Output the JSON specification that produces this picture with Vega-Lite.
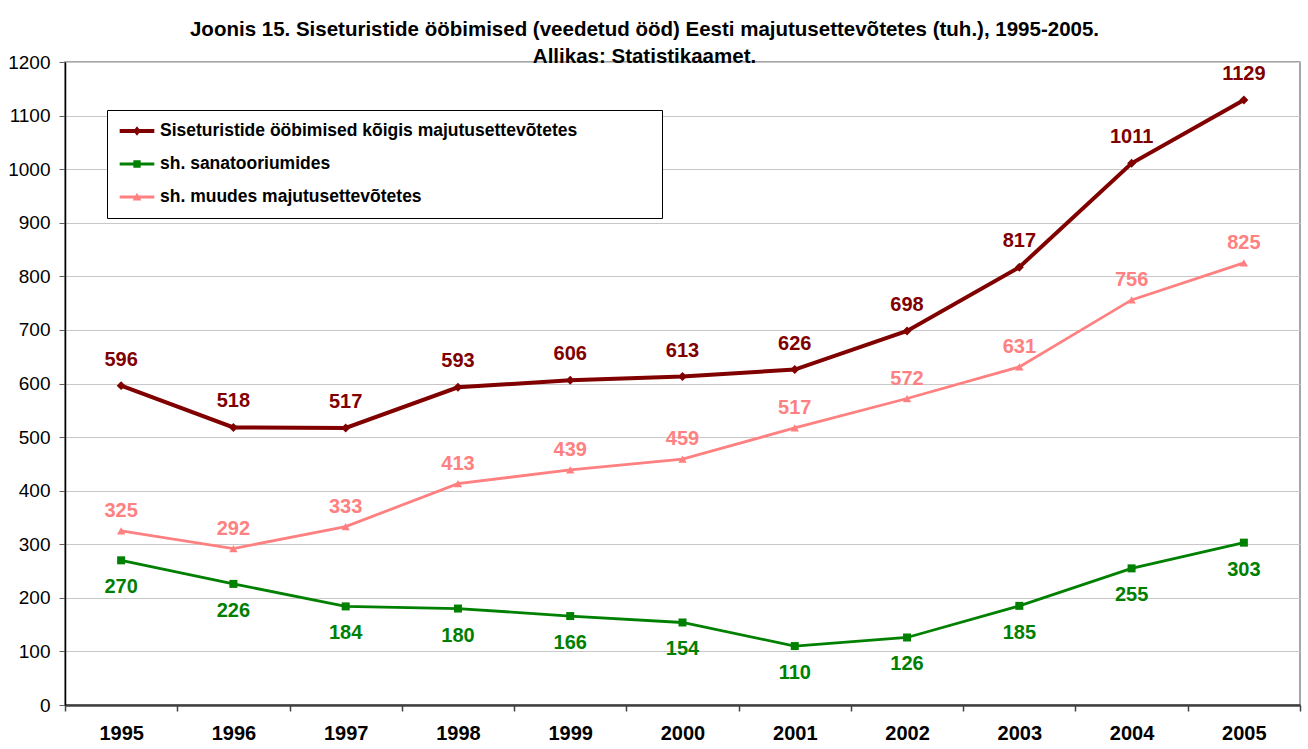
{
  "$schema": "https://vega.github.io/schema/vega-lite/v6.json",
  "width": 1235,
  "height": 643,
  "autosize": "none",
  "padding": {"left": 65, "top": 62, "right": 8, "bottom": 44},
  "background": "white",
  "config": {
    "font": "Liberation Sans",
    "view": {"stroke": "#888888", "strokeWidth": 1.5},
    "legend": {
      "orient": "none",
      "legendX": 42,
      "legendY": 48,
      "fillColor": "white",
      "strokeColor": "black",
      "padding": 12,
      "labelFontSize": 17.5,
      "labelFontWeight": "bold",
      "labelColor": "black",
      "labelLimit": 900,
      "symbolSize": 300,
      "symbolOpacity": 1,
      "symbolStrokeWidth": 0,
      "symbolOffset": 9,
      "labelOffset": 14,
      "rowPadding": 15,
      "titleOrient": "right",
      "titleFontSize": 17.5,
      "titleFontWeight": "bold",
      "titleOpacity": 0,
      "titlePadding": 0
    }
  },
  "title": {
    "text": ["Joonis 15. Siseturistide ööbimised (veedetud ööd) Eesti majutusettevõtetes (tuh.), 1995-2005.", "Allikas: Statistikaamet."],
    "fontSize": 20.5,
    "fontWeight": "bold",
    "color": "black",
    "anchor": "middle",
    "lineHeight": 27,
    "offset": -14,
    "dx": -38
  },
  "data": {
    "values": [
      {"year": "1995", "series": "Siseturistide ööbimised kõigis majutusettevõtetes", "value": 596},
      {"year": "1996", "series": "Siseturistide ööbimised kõigis majutusettevõtetes", "value": 518},
      {"year": "1997", "series": "Siseturistide ööbimised kõigis majutusettevõtetes", "value": 517},
      {"year": "1998", "series": "Siseturistide ööbimised kõigis majutusettevõtetes", "value": 593},
      {"year": "1999", "series": "Siseturistide ööbimised kõigis majutusettevõtetes", "value": 606},
      {"year": "2000", "series": "Siseturistide ööbimised kõigis majutusettevõtetes", "value": 613},
      {"year": "2001", "series": "Siseturistide ööbimised kõigis majutusettevõtetes", "value": 626},
      {"year": "2002", "series": "Siseturistide ööbimised kõigis majutusettevõtetes", "value": 698},
      {"year": "2003", "series": "Siseturistide ööbimised kõigis majutusettevõtetes", "value": 817},
      {"year": "2004", "series": "Siseturistide ööbimised kõigis majutusettevõtetes", "value": 1011},
      {"year": "2005", "series": "Siseturistide ööbimised kõigis majutusettevõtetes", "value": 1129},
      {"year": "1995", "series": "sh. sanatooriumides", "value": 270},
      {"year": "1996", "series": "sh. sanatooriumides", "value": 226},
      {"year": "1997", "series": "sh. sanatooriumides", "value": 184},
      {"year": "1998", "series": "sh. sanatooriumides", "value": 180},
      {"year": "1999", "series": "sh. sanatooriumides", "value": 166},
      {"year": "2000", "series": "sh. sanatooriumides", "value": 154},
      {"year": "2001", "series": "sh. sanatooriumides", "value": 110},
      {"year": "2002", "series": "sh. sanatooriumides", "value": 126},
      {"year": "2003", "series": "sh. sanatooriumides", "value": 185},
      {"year": "2004", "series": "sh. sanatooriumides", "value": 255},
      {"year": "2005", "series": "sh. sanatooriumides", "value": 303},
      {"year": "1995", "series": "sh. muudes majutusettevõtetes", "value": 325},
      {"year": "1996", "series": "sh. muudes majutusettevõtetes", "value": 292},
      {"year": "1997", "series": "sh. muudes majutusettevõtetes", "value": 333},
      {"year": "1998", "series": "sh. muudes majutusettevõtetes", "value": 413},
      {"year": "1999", "series": "sh. muudes majutusettevõtetes", "value": 439},
      {"year": "2000", "series": "sh. muudes majutusettevõtetes", "value": 459},
      {"year": "2001", "series": "sh. muudes majutusettevõtetes", "value": 517},
      {"year": "2002", "series": "sh. muudes majutusettevõtetes", "value": 572},
      {"year": "2003", "series": "sh. muudes majutusettevõtetes", "value": 631},
      {"year": "2004", "series": "sh. muudes majutusettevõtetes", "value": 756},
      {"year": "2005", "series": "sh. muudes majutusettevõtetes", "value": 825}
    ]
  },
  "encoding": {
    "x": {
      "field": "year",
      "type": "ordinal",
      "bandPosition": 0.5,
      "scale": {"type": "band", "paddingInner": 0, "paddingOuter": 0},
      "axis": {
        "title": null,
        "labelAngle": 0,
        "labelFontSize": 20,
        "labelFontWeight": "bold",
        "labelColor": "black",
        "labelPadding": 12,
        "tickBand": "extent",
        "tickSize": 6,
        "tickColor": "#404040",
        "tickWidth": 1.5,
        "domainColor": "#404040",
        "domainWidth": 2.5,
        "grid": false
      }
    },
    "y": {
      "field": "value",
      "type": "quantitative",
      "scale": {"domain": [0, 1200], "nice": false},
      "axis": {
        "title": null,
        "format": "d",
        "values": [0, 100, 200, 300, 400, 500, 600, 700, 800, 900, 1000, 1100, 1200],
        "labelFontSize": 19,
        "labelColor": "black",
        "labelPadding": 9,
        "tickSize": 6,
        "tickColor": "#606060",
        "domainColor": "black",
        "domainWidth": 1.5,
        "grid": true,
        "gridColor": "#c8c8c8",
        "gridWidth": 1
      }
    },
    "color": {
      "field": "series",
      "type": "nominal",
      "sort": null,
      "title": "MMMMM",
      "scale": {
        "domain": ["Siseturistide ööbimised kõigis majutusettevõtetes", "sh. sanatooriumides", "sh. muudes majutusettevõtetes"],
        "range": ["#800000", "#008000", "#FF8080"]
      }
    }
  },
  "layer": [
    {
      "mark": {"type": "point", "filled": true, "opacity": 0},
      "encoding": {
        "shape": {
          "field": "series",
          "type": "nominal",
          "sort": null,
          "title": "MMMMM",
          "scale": {
            "domain": ["Siseturistide ööbimised kõigis majutusettevõtetes", "sh. sanatooriumides", "sh. muudes majutusettevõtetes"],
            "range": [
              "M-2,-0.22H2V0.22H-2Z M0,-0.55L0.42,0L0,0.55L-0.42,0Z",
              "M-2,-0.16H2V0.16H-2Z M-0.42,-0.42H0.42V0.42H-0.42Z",
              "M-2,-0.16H2V0.16H-2Z M0,-0.5L0.5,0.4H-0.5Z"
            ]
          }
        }
      }
    },
    {
      "transform": [{"filter": "datum.series === 'Siseturistide ööbimised kõigis majutusettevõtetes'"}],
      "mark": {"type": "line", "strokeWidth": 4}
    },
    {
      "transform": [{"filter": "datum.series !== 'Siseturistide ööbimised kõigis majutusettevõtetes'"}],
      "mark": {"type": "line", "strokeWidth": 2.8}
    },
    {
      "transform": [{"filter": "datum.series === 'Siseturistide ööbimised kõigis majutusettevõtetes'"}],
      "mark": {"type": "point", "filled": true, "opacity": 1, "shape": "diamond", "size": 80}
    },
    {
      "transform": [{"filter": "datum.series === 'sh. sanatooriumides'"}],
      "mark": {"type": "point", "filled": true, "opacity": 1, "shape": "square", "size": 64}
    },
    {
      "transform": [{"filter": "datum.series === 'sh. muudes majutusettevõtetes'"}],
      "mark": {"type": "point", "filled": true, "opacity": 1, "shape": "triangle-up", "size": 70}
    },
    {
      "transform": [{"filter": "datum.series === 'Siseturistide ööbimised kõigis majutusettevõtetes'"}],
      "mark": {"type": "text", "dy": -26, "fontSize": 20, "fontWeight": "bold"},
      "encoding": {"text": {"field": "value", "type": "quantitative"}}
    },
    {
      "transform": [{"filter": "datum.series === 'sh. sanatooriumides'"}],
      "mark": {"type": "text", "dy": 27, "fontSize": 20, "fontWeight": "bold"},
      "encoding": {"text": {"field": "value", "type": "quantitative"}}
    },
    {
      "transform": [{"filter": "datum.series === 'sh. muudes majutusettevõtetes'"}],
      "mark": {"type": "text", "dy": -20, "fontSize": 20, "fontWeight": "bold"},
      "encoding": {"text": {"field": "value", "type": "quantitative"}}
    }
  ]
}
